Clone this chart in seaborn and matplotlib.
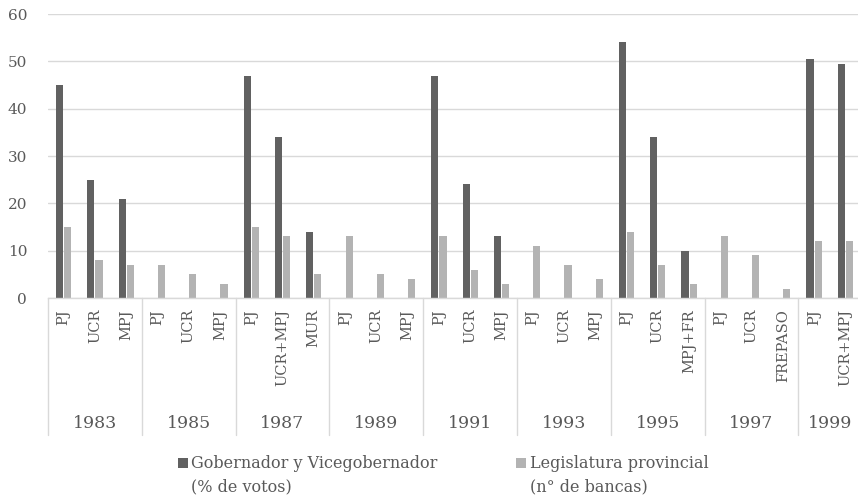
import matplotlib
matplotlib.use("Agg")
import matplotlib.pyplot as plt
import matplotlib.transforms as mtransforms
import seaborn as sns
import pandas as pd

years = ["1983", "1985", "1987", "1989", "1991", "1993", "1995", "1997", "1999"]
parties = [
    ["PJ", "UCR", "MPJ"],
    ["PJ", "UCR", "MPJ"],
    ["PJ", "UCR+MPJ", "MUR"],
    ["PJ", "UCR", "MPJ"],
    ["PJ", "UCR", "MPJ"],
    ["PJ", "UCR", "MPJ"],
    ["PJ", "UCR", "MPJ+FR"],
    ["PJ", "UCR", "FREPASO"],
    ["PJ", "UCR+MPJ"],
]
gobernador = [45, 25, 21, 0, 0, 0, 47, 34, 14, 0, 0, 0, 47, 24, 13,
              0, 0, 0, 54, 34, 10, 0, 0, 0, 50.4, 49.5]
legislatura = [15, 8, 7, 7, 5, 3, 15, 13, 5, 13, 5, 4, 13, 6, 3,
               11, 7, 4, 14, 7, 3, 13, 9, 2, 12, 12]
series_line1 = ["Gobernador y Vicegobernador", "Legislatura provincial"]
series_line2 = ["(% de votos)", "(n° de bancas)"]
y_ticks = [0, 10, 20, 30, 40, 50, 60]

DARK = "#616161"
LIGHT = "#b3b3b3"
TXT = "#595959"
GRID = "#d9d9d9"

keys, labels = [], []
for yr, ps in zip(years, parties):
    for p in ps:
        keys.append(f"{yr}|{p}")
        labels.append(p)

df = pd.DataFrame({
    "key": keys * 2,
    "value": gobernador + legislatura,
    "serie": [series_line1[0]] * len(keys) + [series_line1[1]] * len(keys),
})

sns.set_theme(style="white")
plt.rcParams["font.family"] = ["DejaVu Serif"]

fig = plt.figure(figsize=(8.58, 5.01), dpi=100)
W, H = 858, 501
ax = fig.add_axes([48 / W, 1 - 298 / H, 26 * 31.27 / W, 284 / H])

sns.barplot(data=df, x="key", y="value", hue="serie", order=keys,
            hue_order=series_line1, palette=[DARK, LIGHT], saturation=1,
            width=0.52, gap=0.12, linewidth=0, ax=ax)

handles, lab = ax.get_legend_handles_labels()
if ax.get_legend() is not None:
    ax.get_legend().remove()

ax.set_xlim(-0.5, len(keys) - 0.5)
ax.set_ylim(0, 60)
ax.set_yticks(y_ticks)
ax.set_yticklabels([str(t) for t in y_ticks])
ax.set_xticks(range(len(keys)))
ax.set_xticklabels(labels, rotation=90)
ax.set_xlabel("")
ax.set_ylabel("")
ax.yaxis.grid(True, color=GRID, lw=1)
ax.xaxis.grid(False)
ax.set_axisbelow(True)
for s in ["top", "left", "right"]:
    ax.spines[s].set_visible(False)
ax.spines["bottom"].set_color(GRID)
ax.spines["bottom"].set_linewidth(1)
ax.tick_params(axis="y", length=0, pad=15, labelsize=11, labelcolor=TXT)
ax.tick_params(axis="x", length=0, pad=8, labelsize=10.5, labelcolor=TXT)

trans = mtransforms.blended_transform_factory(ax.transData, ax.transAxes)
line_bottom = (298 - 435) / 284
year_y = (298 - 423) / 284
start = 0
for yr, ps in zip(years, parties):
    n = len(ps)
    b = start - 0.5
    ax.plot([b, b], [0, line_bottom], transform=trans, clip_on=False,
            color=GRID, lw=1)
    ax.text(start + (n - 1) / 2, year_y, yr, transform=trans, ha="center",
            va="center", fontsize=12.5, color=TXT, clip_on=False)
    start += n
ax.plot([start - 0.5] * 2, [0, line_bottom], transform=trans, clip_on=False,
        color=GRID, lw=1)

leg = fig.legend(handles, lab, loc="center", bbox_to_anchor=(443 / W, 1 - 464 / H),
                 ncol=2, frameon=False, handlelength=0.66, handleheight=0.66,
                 handletextpad=0.2, columnspacing=4.9, fontsize=11.5,
                 labelcolor=TXT, borderpad=0, borderaxespad=0)

fig.canvas.draw()
renderer = fig.canvas.get_renderer()
for t, s2 in zip(leg.get_texts(), series_line2):
    bb = t.get_window_extent(renderer)
    fig.text(bb.x0, bb.y0 - 23, s2, transform=None, ha="left", va="bottom",
             fontsize=11.5, color=TXT)

fig.savefig("out.png", dpi=100)
